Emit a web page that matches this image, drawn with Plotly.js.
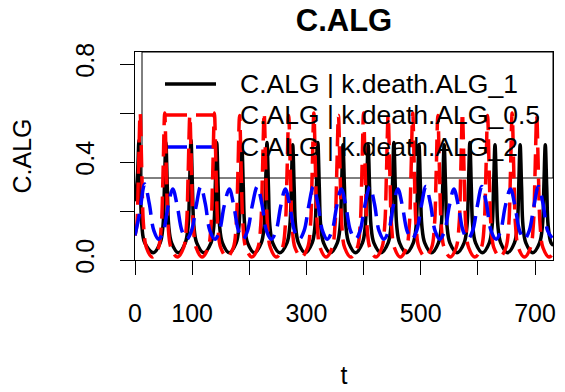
<!DOCTYPE html>
<html>
<head>
<meta charset="utf-8">
<script src="https://cdn.plot.ly/plotly-3.0.1.min.js"></script>
<style>html,body{margin:0;padding:0;background:#fff;}#chart{width:565px;height:392px;}</style>
</head>
<body>
<div id="chart"></div>
<script>
// ---- data ----
const chartTitle = "C.ALG";
const xTitle = "t";
const yTitle = "C.ALG";
const seriesNames = ["C.ALG | k.death.ALG_1", "C.ALG | k.death.ALG_0.5", "C.ALG | k.death.ALG_2"];

const xTickVals = [0, 100, 200, 300, 400, 500, 600, 700];
const xTickText = ["0", "100", "", "300", "", "500", "", "700"];
const yTickVals = [0, 0.2, 0.4, 0.6, 0.8];
const yTickText = ["0.0", "", "0.4", "", "0.8"];

// k.death.ALG = 1 (black)
const tBlack = [0,4,7,9.5,12,17,32,44,49,51.5,54,56.5,59,64,76,88,93,95.5,98,100.5,103,108,120.5,133,138,140.5,143,145.5,148,153,165,177,182,184.5,187,189.5,192,197,209,221,226,228.5,231,233.5,236,241,253.5,266,271,273.5,276,278.5,281,286,298,310,315,317.5,320,322.5,325,330,342,354,359,361.5,364,366.5,369,374,386,398,403,405.5,408,410.5,413,418,430.5,443,448,450.5,453,455.5,458,463,475,487,492,494.5,497,499.5,502,507,519,531,536,538.5,541,543.5,546,551,563.5,576,581,583.5,586,588.5,591,596,608,620,625,627.5,630,632.5,635,640,652,664,669,671.5,674,676.5,679,684,696,708,713,715.5,718,720.5,723,728,732];
const yBlack = [0.24,0.33,0.49,0.30,0.14,0.07,0.03,0.07,0.14,0.30,0.48,0.30,0.14,0.07,0.03,0.07,0.14,0.30,0.49,0.30,0.14,0.07,0.03,0.07,0.14,0.30,0.48,0.30,0.14,0.07,0.03,0.07,0.14,0.30,0.47,0.30,0.14,0.07,0.03,0.07,0.14,0.30,0.48,0.30,0.14,0.07,0.03,0.07,0.14,0.30,0.47,0.30,0.14,0.07,0.03,0.07,0.14,0.30,0.48,0.30,0.14,0.07,0.03,0.07,0.14,0.30,0.47,0.30,0.14,0.07,0.03,0.07,0.14,0.30,0.47,0.30,0.14,0.07,0.03,0.07,0.14,0.30,0.48,0.30,0.14,0.07,0.03,0.07,0.14,0.30,0.47,0.30,0.14,0.07,0.03,0.07,0.14,0.30,0.47,0.30,0.14,0.07,0.03,0.07,0.14,0.30,0.48,0.30,0.14,0.07,0.03,0.07,0.14,0.30,0.47,0.30,0.14,0.07,0.03,0.07,0.14,0.30,0.47,0.30,0.14,0.07,0.03,0.07,0.14,0.30,0.47,0.30,0.14,0.07,0.06];

// k.death.ALG = 0.5 (red)
const tRed = [0,3,6,9,12,15,20,30.5,41,46,49,52,55,58,63,74,85,90,93,96,99,102,107,117.5,128,133,136,139,142,145,150,161,172,177,180,183,186,189,194,204.5,215,220,223,226,229,232,237,247.5,258,263,266,269,272,275,280,291,302,307,310,313,316,319,324,334.5,345,350,353,356,359,362,367,378,389,394,397,400,403,406,411,421.5,432,437,440,443,446,449,454,464.5,475,480,483,486,489,492,497,508,519,524,527,530,533,536,541,551.5,562,567,570,573,576,579,584,595,606,611,614,617,620,623,628,638.5,649,654,657,660,663,666,671,681.5,692,697,700,703,706,709,714,725,732];
const yRed = [0.10,0.14,0.35,0.60,0.35,0.14,0.05,0.012,0.05,0.14,0.35,0.60,0.35,0.14,0.05,0.012,0.05,0.14,0.35,0.59,0.35,0.14,0.05,0.012,0.05,0.14,0.35,0.60,0.35,0.14,0.05,0.012,0.05,0.14,0.35,0.59,0.35,0.14,0.05,0.012,0.05,0.14,0.35,0.60,0.35,0.14,0.05,0.012,0.05,0.14,0.35,0.59,0.35,0.14,0.05,0.012,0.05,0.14,0.35,0.60,0.35,0.14,0.05,0.012,0.05,0.14,0.35,0.59,0.35,0.14,0.05,0.012,0.05,0.14,0.35,0.60,0.35,0.14,0.05,0.012,0.05,0.14,0.35,0.59,0.35,0.14,0.05,0.012,0.05,0.14,0.35,0.60,0.35,0.14,0.05,0.012,0.05,0.14,0.35,0.59,0.35,0.14,0.05,0.012,0.05,0.14,0.35,0.60,0.35,0.14,0.05,0.012,0.05,0.14,0.35,0.59,0.35,0.14,0.05,0.012,0.05,0.14,0.35,0.60,0.35,0.14,0.05,0.012,0.05,0.14,0.35,0.59,0.35,0.14,0.05,0.012,0.03];

// k.death.ALG = 2 (blue)
const tBlue = [0,8,17,25,33,41.5,50,58,66,74,82,90.5,99,107,115,123,131,140,148,156,165,173,181,189,197,205,214,222,230,238.5,247,255,263,271,279,287.5,296,304,312,320,328,336.5,345,353,361,369,377,386,394,402,411,419,427,435.5,444,452,460,468,476,484.5,493,501,509,517,525,533.5,542,550,558,566,574,582.5,591,599,607,615,623,632,640,648,657,665,673,681.5,690,698,706,714,722,730];
const yBlue = [0.10,0.19,0.31,0.23,0.12,0.085,0.12,0.22,0.29,0.22,0.12,0.085,0.12,0.22,0.30,0.23,0.12,0.085,0.12,0.22,0.29,0.22,0.12,0.085,0.12,0.22,0.30,0.23,0.12,0.085,0.12,0.22,0.29,0.22,0.12,0.085,0.12,0.22,0.30,0.23,0.12,0.085,0.12,0.22,0.29,0.22,0.12,0.085,0.12,0.22,0.30,0.23,0.12,0.085,0.12,0.22,0.29,0.22,0.12,0.085,0.12,0.22,0.30,0.23,0.12,0.085,0.12,0.22,0.29,0.22,0.12,0.085,0.12,0.22,0.30,0.23,0.12,0.085,0.12,0.22,0.29,0.22,0.12,0.085,0.12,0.22,0.30,0.23,0.12,0.09];

// ---- drawing ----
const FONT = "Liberation Sans, Arial, Helvetica, sans-serif";
const W = 565, H = 392;
const M = {l: 135, r: 12, t: 52, b: 132};
const PW = W - M.l - M.r, PH = H - M.t - M.b;
const px = x => (x - M.l) / PW;
const py = y => (H - M.b - y) / PH;

const colors = ["#000000", "#FF0000", "#0000FF"];
const dashes = ["solid", "22px,9px", "22px,9px"];
const xs = [tBlack, tRed, tBlue];
const ys = [yBlack, yRed, yBlue];

const traces = seriesNames.map((n, i) => ({
  type: "scatter", mode: "lines", name: n, x: xs[i], y: ys[i],
  line: {color: colors[i], width: 3.5, dash: dashes[i], shape: "spline", smoothing: 1},
  showlegend: false, hoverinfo: "skip"
}));

const legendRows = [84, 115, 147];
const shapes = [{
  type: "rect", xref: "paper", yref: "paper", x0: px(142), x1: px(553), y0: py(178), y1: py(52),
  line: {color: "#000", width: 1}, layer: "below"
}];
const annotations = [];
seriesNames.forEach((n, i) => {
  shapes.push({type: "line", xref: "paper", yref: "paper", x0: px(165), x1: px(216),
    y0: py(legendRows[i]), y1: py(legendRows[i]), layer: "below",
    line: {color: colors[i], width: 3.5, dash: dashes[i]}});
  annotations.push({xref: "paper", yref: "paper", x: px(238), y: py(legendRows[i]),
    xanchor: "left", yanchor: "middle", text: n, showarrow: false,
    font: {family: FONT, size: 26.5, color: "#000"}});
});

const axisBase = {
  showgrid: false, zeroline: false, showline: true, mirror: true,
  linecolor: "#000", linewidth: 1, ticks: "outside", ticklen: 14, tickwidth: 1, tickcolor: "#000",
  tickfont: {family: FONT, size: 25, color: "#000"}, fixedrange: true
};

const layout = {
  width: W, height: H, margin: M,
  paper_bgcolor: "#fff", plot_bgcolor: "#fff",
  font: {family: FONT, color: "#000"},
  title: {text: "<b>" + chartTitle + "</b>", font: {family: FONT, size: 31, color: "#000"},
    x: px(344), xref: "paper", xanchor: "center", y: 1 - 20 / H, yref: "container", yanchor: "middle"},
  xaxis: Object.assign({}, axisBase, {
    range: [0, 731.5], tickmode: "array", tickvals: xTickVals, ticktext: xTickText,
    ticklabelstandoff: 17,
    title: {text: xTitle, font: {family: FONT, size: 25, color: "#000"}, standoff: 40}
  }),
  yaxis: Object.assign({}, axisBase, {
    range: [0, 0.849], tickmode: "array", tickvals: yTickVals, ticktext: yTickText,
    tickangle: -90, ticklabelstandoff: 16,
    title: {text: yTitle, font: {family: FONT, size: 25, color: "#000"}, standoff: 32}
  }),
  shapes: shapes, annotations: annotations, showlegend: false
};

Plotly.newPlot("chart", traces, layout, {staticPlot: true, displayModeBar: false});
</script>
</body>
</html>
